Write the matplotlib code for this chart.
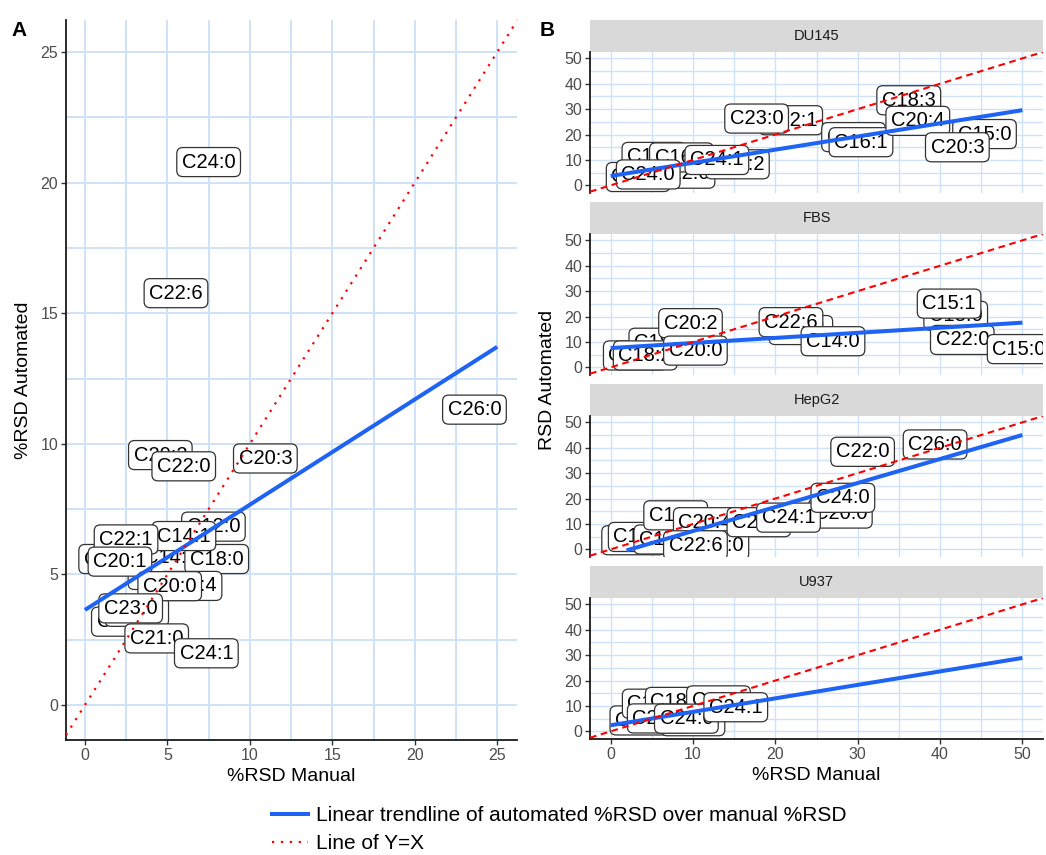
import matplotlib
matplotlib.use("Agg")
import matplotlib.pyplot as plt
from matplotlib.lines import Line2D
from matplotlib.patches import Rectangle
from matplotlib.ticker import MultipleLocator
import numpy as np

plt.rcParams['font.family'] = ['Liberation Sans', 'DejaVu Sans']

W, H = 1046, 855

# ---- panel A: all cells pooled (draw order = back to front)
a_names = ["C20:2", "C22:0", "C20:3", "C24:0", "C22:6", "C26:0",
           "C16:0", "C18:2", "C17:0", "C18:1", "C14:0", "C12:0", "C18:0",
           "C20:4", "C14:1", "C22:1", "C20:1", "C20:0", "C23:0", "C21:0", "C24:1"]
a_x = [4.57, 5.99, 10.94, 7.5, 5.52, 23.62,
       1.56, 2.33, 3.14, 4.55, 5.2, 7.79, 7.99,
       6.37, 6.0, 2.49, 2.12, 5.14, 2.77, 4.35, 7.36]
a_y = [9.57, 9.14, 9.44, 20.79, 15.77, 11.31,
       5.59, 3.19, 3.57, 4.98, 5.63, 6.83, 5.59,
       4.56, 6.47, 6.34, 5.49, 4.55, 3.70, 2.55, 1.98]
a_fit_intercept = 3.64
a_fit_slope = 0.403
a_fit_range = [0, 25]

# ---- panel B: one facet per cell line
cells = ["DU145", "FBS", "HepG2", "U937"]

du145_names = ["C18:2", "C22:0", "C18:1", "C16:0", "C20:2", "C24:1", "C24:0",
               "C22:1", "C23:0", "C14:0", "C16:1", "C18:3", "C20:4", "C15:0", "C20:3"]
du145_x = [3.35, 8.8, 5.26, 8.6, 15.4, 12.9, 4.57,
           21.87, 17.73, 29.5, 30.4, 36.2, 37.3, 45.4, 42.1]
du145_y = [3.3, 4.6, 11.2, 11.0, 8.3, 10.0, 4.3,
           25.65, 26.3, 19.0, 17.0, 33.5, 25.4, 20.2, 15.0]

fbs_names = ["C16:0", "C18:1", "C18:2", "C20:2", "C20:0", "C22:1", "C22:6",
             "C14:0", "C18:0", "C15:1", "C22:0", "C15:0"]
fbs_x = [3.0, 6.1, 4.2, 9.7, 10.3, 23.1, 21.9, 27.0, 41.9, 41.1, 42.7, 49.6]
fbs_y = [4.7, 9.7, 4.7, 17.4, 6.6, 14.7, 17.8, 10.3, 20.3, 25.1, 10.8, 7.2]

hepg2_names = ["C16:0", "C14:0", "C15:0", "C18:1", "C20:4", "C18:0", "C22:6",
               "C20:0", "C22:1", "C24:1", "C24:0", "C22:0", "C26:0"]
hepg2_x = [2.8, 3.6, 6.7, 7.9, 11.5, 12.9, 10.3, 27.9, 18.0, 21.6, 28.2, 30.6, 39.4]
hepg2_y = [3.6, 4.9, 3.9, 13.4, 10.7, 1.6, 1.6, 14.1, 10.7, 12.5, 20.3, 38.4, 41.3]

u937_names = ["C16:0", "C18:1", "C18:2", "C20:4", "C22:6", "C20:2", "C24:0", "C24:1"]
u937_x = [3.8, 5.3, 8.1, 13.1, 10.0, 5.9, 9.2, 15.2]
u937_y = [4.3, 10.9, 11.6, 12.2, 4.0, 5.1, 5.0, 9.5]

b_names = [du145_names, fbs_names, hepg2_names, u937_names]
b_x = [du145_x, fbs_x, hepg2_x, u937_x]
b_y = [du145_y, fbs_y, hepg2_y, u937_y]
b_fit_intercept = [3.7, 7.6, -2.23, 2.4]
b_fit_slope = [0.518, 0.2, 0.945, 0.53]
b_fit_xmin = [0, 0, 1.94, 0]
b_fit_xmax = [50, 50, 50, 50]

blue = '#1f63f5'
grid_col = '#cfe2f8'
tick_col = '#4d4d4d'


def fx(px):
    return px / W


def fy(py):
    return 1 - py / H


def put_label(ax, x, y, s):
    ax.text(x, y, s, ha='center', va='center', fontsize=14.5, color='black',
            clip_on=True, zorder=3,
            bbox=dict(boxstyle='round,pad=0.25,rounding_size=0.3',
                      fc='white', ec='#333333', lw=0.9))


def style_axis(ax, major, minor, glw):
    for s in ['top', 'right']:
        ax.spines[s].set_visible(False)
    for s in ['left', 'bottom']:
        ax.spines[s].set_linewidth(1.3)
        ax.spines[s].set_color('#1a1a1a')
    ax.xaxis.set_major_locator(MultipleLocator(major))
    ax.xaxis.set_minor_locator(MultipleLocator(minor))
    ax.yaxis.set_major_locator(MultipleLocator(major))
    ax.yaxis.set_minor_locator(MultipleLocator(minor))
    ax.grid(which='both', color=grid_col, lw=glw, zorder=0)
    ax.set_axisbelow(True)
    ax.tick_params(which='major', length=3.5, width=1, color='#333333',
                   labelcolor=tick_col, labelsize=11.5, pad=2)
    ax.tick_params(which='minor', length=0)


fig = plt.figure(figsize=(W / 100, H / 100), dpi=100)

# ---------------- panel A
axA = fig.add_axes([fx(66), fy(740), fx(517) - fx(66), (740 - 20) / H])
style_axis(axA, 5, 2.5, 1.4)
axA.set_xlim(-1.15, 26.2)
axA.set_ylim(-1.34, 26.23)
for n, x, y in zip(a_names, a_x, a_y):
    put_label(axA, x, y, n)
xs = np.array(a_fit_range, dtype=float)
axA.plot(xs, a_fit_intercept + a_fit_slope * xs, color=blue, lw=2.9, zorder=5,
         solid_capstyle='butt')
axA.axline((0, 0), slope=1, color='red', lw=1.6, ls=(0, (1, 3)), zorder=5)
axA.set_xlabel('%RSD Manual', fontsize=14, labelpad=4)
axA.set_ylabel('%RSD Automated', fontsize=14, labelpad=6)

# ---------------- panel B
for k, cell in enumerate(cells):
    top = 52 + 182 * k
    bot = 193 + 182 * k
    ax = fig.add_axes([fx(590), fy(bot), fx(1043) - fx(590), (bot - top) / H])
    style_axis(ax, 10, 5, 1.0)
    ax.set_xlim(-2.5, 52.5)
    ax.set_ylim(-3, 52.5)
    for n, x, y in zip(b_names[k], b_x[k], b_y[k]):
        put_label(ax, x, y, n)
    xs = np.array([b_fit_xmin[k], b_fit_xmax[k]], dtype=float)
    ax.plot(xs, b_fit_intercept[k] + b_fit_slope[k] * xs, color=blue, lw=2.9,
            zorder=5, solid_capstyle='butt')
    ax.axline((0, 0), slope=1, color='red', lw=1.5, ls=(0, (3.2, 2.2)), zorder=5)
    sh = 32 / (bot - top)
    ax.add_patch(Rectangle((0, 1), 1, sh, transform=ax.transAxes, clip_on=False,
                           fc='#d9d9d9', ec='none'))
    ax.text(0.5, 1 + sh / 2, cell, transform=ax.transAxes, ha='center',
            va='center', fontsize=10.5, color='#1a1a1a')
    if k < len(cells) - 1:
        ax.spines['bottom'].set_visible(False)
        ax.tick_params(axis='x', which='both', length=0, labelbottom=False)
    else:
        ax.set_xlabel('%RSD Manual', fontsize=14, labelpad=4)

fig.text(fx(547), fy(380), 'RSD Automated', rotation=90, ha='center',
         va='center', fontsize=14)

fig.text(fx(11), fy(30), 'A', fontsize=15, fontweight='bold', va='center')
fig.text(fx(540), fy(30), 'B', fontsize=15, fontweight='bold', va='center')

handles = [Line2D([], [], color=blue, lw=2.9),
           Line2D([], [], color='red', lw=1.6, ls=(0, (1, 3)))]
fig.legend(handles, ['Linear trendline of automated %RSD over manual %RSD',
                     'Line of Y=X'],
           loc='upper left', bbox_to_anchor=(fx(272), fy(806)), frameon=False,
           fontsize=15, handlelength=1.75, handletextpad=0.35,
           borderpad=0, borderaxespad=0, labelspacing=0.45)

fig.savefig('out.png', dpi=100)
